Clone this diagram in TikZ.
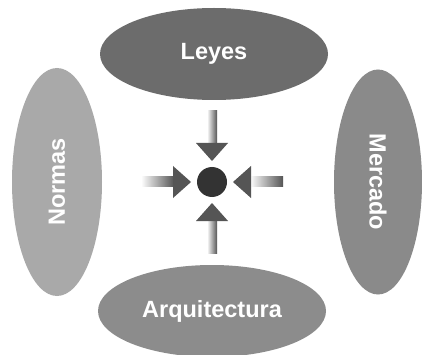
\documentclass[tikz,border=0pt]{standalone}
\usepackage{fontspec}
\setmainfont{Liberation Sans}
\usetikzlibrary{shapes.geometric}
\definecolor{leyesgray}{HTML}{6C6C6C}
\definecolor{normasgray}{HTML}{A9A9A9}
\definecolor{mercadogray}{HTML}{8A8A8A}
\definecolor{arqgray}{HTML}{8C8C8C}
\definecolor{arrowgray}{HTML}{555555}
\definecolor{dotgray}{HTML}{333333}
\begin{document}
\begin{tikzpicture}[x=1pt,y=-1pt,
  blob/.style={ellipse, inner sep=0pt, text=white,
    font=\bfseries\fontsize{23.5}{25}\selectfont},
  wide/.style={blob, minimum width=228pt, minimum height=92pt}]
\useasboundingbox (0,0) rectangle (422,355);
\clip (0,0) rectangle (422,355);
\fill[white] (0,0) rectangle (422,355);

% the four forces
\node[wide, fill=leyesgray] (leyes) at (214,54) {Leyes};
\node[wide, fill=arqgray] (arq) at (212,311) {Arquitectura};
\node[wide, fill=normasgray, minimum height=90pt, rotate=90] (normas) at (57,182) {Normas};
\node[wide, fill=mercadogray, minimum width=225pt, minimum height=88pt, rotate=-90] (mercado) at (378,182) {Mercado};

% the regulated point
\node[circle, fill=dotgray, minimum size=30pt, inner sep=0pt] (dot) at (212,182) {};

% arrows converging on the point
\foreach \a in {0,90,180,270} {
  \begin{scope}[shift={(dot.center)}, rotate=\a]
    \shade[left color=white, right color=arrowgray] (-71,-5) rectangle (-38,5);
    \fill[arrowgray] (-39,-16) -- (-21,0) -- (-39,16) -- cycle;
  \end{scope}
}
\end{tikzpicture}
\end{document}
